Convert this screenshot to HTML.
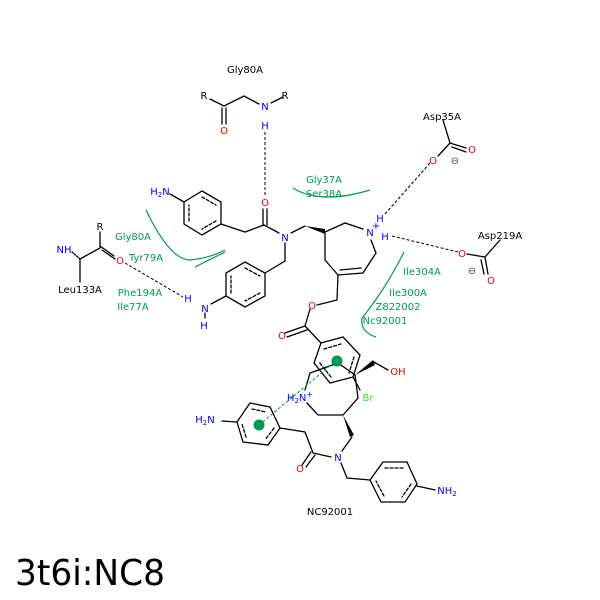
<!DOCTYPE html>
<html><head><meta charset="utf-8"><style>
html,body{margin:0;padding:0;background:#fff;width:600px;height:600px;overflow:hidden}
svg{display:block}
text{font-family:"DejaVu Sans","Liberation Sans",sans-serif;font-size:10px}
</style></head><body>
<svg width="600" height="600" viewBox="0 0 600 600">
<rect width="600" height="600" fill="#fff"/>
<g stroke="#000" stroke-width="1.3" fill="none" stroke-linecap="round">
<!-- top Gly80A residue -->
<path d="M210,99 L224,106 L244,96 L259,104 M271,103 L283,97"/>
<path d="M222,108 L222,124 M226,108 L226,124"/>
<!-- ring1 -->
<path d="M202,191 L221,202 L221,224 L202,235 L184,224 L184,202 Z"/>
<path d="M202,197 L216,205 M216,221 L202,229 M189,221 L189,205" stroke-dasharray="3,2"/>
<path d="M184,202 L170,194"/>
<path d="M221,224 L245,232 L264,225 L279,233"/>
<path d="M263,225 L263,209 M267,225 L267,209"/>
<path d="M291,233 L305,226"/>
<polygon points="305,226 325,229 325,234" fill="#000" stroke="none"/>
<path d="M285,243 L285,261 L265,273"/>
<!-- ring2 -->
<path d="M245,262 L265,273 L265,296 L245,307 L226,296 L226,273 Z"/>
<path d="M245,268 L260,276 M260,293 L245,301 M231,293 L231,276" stroke-dasharray="3,2"/>
<path d="M226,296 L211,304"/>
<path d="M205,313 L205,318"/>
<!-- azepane -->
<path d="M325,232 L345,223 L363,229 M371,240 L376,253 L363,273 L338,275 L325,260 L325,232"/>
<path d="M340,270 L361,268"/>
<path d="M338,275 L337,300 L317,305"/>
<path d="M310,309 L305,326 L285,333 M307,330 L287,337"/>
<path d="M305,326 L321,343"/>
<!-- benzene ring3 -->
<path d="M321,343 L343,337 L360,355 L353,377 L330,383 L314,363 Z"/>
<path d="M324,349 L341,344 M354,357 L349,373 M331,377 L319,362" stroke-dasharray="3,2"/>
<path d="M353,377 L360,390"/>
<!-- piperidine -->
<path d="M305,390 L310,373 L338,363 L355,375 L358,398 L343,415 L318,415 L307,403"/>
<polygon points="355,375 373,360 375,365" fill="#000" stroke="none"/>
<path d="M374,362 L388,370"/>
<polygon points="343,415 350,437 354,435" fill="#000" stroke="none"/>
<path d="M352,437 L342,451"/>
<!-- ring4 -->
<path d="M250,403 L270,407 L280,428 L268,445 L243,442 L237,422 Z"/>
<path d="M252,409 L266,412 M274,428 L265,440 M246,437 L242,424" stroke-dasharray="3,2"/>
<path d="M222,421 L237,422"/>
<path d="M280,428 L305,432 L313,453 L331,457"/>
<path d="M311,452 L302,465 M315,455 L306,467"/>
<path d="M341,463 L347,478 L370,480"/>
<!-- ring5 -->
<path d="M370,480 L383,462 L407,462 L417,484 L405,502 L381,502 Z"/>
<path d="M385,468 L404,468 M411,484 L402,497 M384,496 L376,481" stroke-dasharray="3,2"/>
<path d="M417,486 L435,490"/>
<!-- Leu133A -->
<path d="M80,259 L80,282 M80,259 L100,248 L100,232"/>
<path d="M100,246 L114,256 M102,250 L115,259"/>
<path d="M72,252 L80,259" stroke-dasharray="1.5,1.5"/>
<!-- Asp35A -->
<path d="M443,120 L450,143 L466,148 M450,143 L438,156 M452,147 L466,152"/>
<!-- Asp219A -->
<path d="M500,240 L485,257 L467,254 M485,257 L488,274 M481,260 L484,274"/>
</g>
<!-- H-bond dashes -->
<g stroke="#000" stroke-width="1" stroke-dasharray="3,2" fill="none">
<path d="M265,132 L265,196"/>
<path d="M125,263 L183,297"/>
<path d="M385,214 L430,163"/>
<path d="M392,236 L458,252"/>
</g>
<!-- pi interaction -->
<path d="M259,425 L337,360" stroke="#009955" stroke-width="1" stroke-dasharray="3,2"/>
<circle cx="337" cy="361" r="5.5" fill="#009955"/>
<circle cx="259" cy="425" r="5.5" fill="#009955"/>
<!-- green residue curves -->
<g stroke="#009955" stroke-width="1.2" fill="none">
<path d="M293,188 Q320,205 370,190"/>
<path d="M146,210 Q170,260 190,260 Q210,258 225,250 M195,267 L225,252"/>
<path d="M404,252 Q385,290 362,318 Q360,332 376,337"/>
</g>
<!-- labels -->
<g text-anchor="middle">
<text x="245" y="73">Gly80A</text>
<text x="204" y="99">R</text>
<text x="224" y="134" fill="#e00">O</text>
<text x="265" y="110" fill="#00f">N</text>
<text x="285" y="99">R</text>
<text x="265" y="129" fill="#00f">H</text>
<text x="265" y="206" fill="#e00">O</text>
<text x="285" y="241" fill="#00f">N</text>
<text x="370" y="236" fill="#00f">N</text>
<text x="376" y="229" fill="#00f" font-size="8">+</text>
<text x="380" y="222" fill="#00f">H</text>
<text x="385" y="240" fill="#00f">H</text>
<text x="312" y="309" fill="#e00">O</text>
<text x="282" y="339" fill="#e00">O</text>
<text x="398" y="375" fill="#e00">OH</text>
<text x="368" y="401" fill="#33dd33">Br</text>
<text x="300" y="401" fill="#00f">H<tspan font-size="7" dy="2">2</tspan><tspan dy="-2">N</tspan><tspan font-size="8" dy="-4">+</tspan></text>
<text x="205" y="423" fill="#00f">H<tspan font-size="7" dy="2">2</tspan><tspan dy="-2">N</tspan></text>
<text x="300" y="472" fill="#e00">O</text>
<text x="338" y="461" fill="#00f">N</text>
<text x="447" y="494" fill="#00f">NH<tspan font-size="7" dy="2">2</tspan></text>
<text x="330" y="515">NC92001</text>
<text x="160" y="195" fill="#00f">H<tspan font-size="7" dy="2">2</tspan><tspan dy="-2">N</tspan></text>
<text x="188" y="302" fill="#00f">H</text>
<text x="205" y="312" fill="#00f">N</text>
<text x="204" y="329" fill="#00f">H</text>
<text x="64" y="253" fill="#00f">NH</text>
<text x="100" y="230">R</text>
<text x="120" y="264" fill="#e00">O</text>
<text x="80" y="293">Leu133A</text>
<text x="442" y="120">Asp35A</text>
<text x="472" y="153" fill="#e00">O</text>
<text x="433" y="164" fill="#e00">O</text>
<text x="455" y="164" fill="#444">⊖</text>
<text x="500" y="239">Asp219A</text>
<text x="462" y="257" fill="#e00">O</text>
<text x="491" y="284" fill="#e00">O</text>
<text x="472" y="274" fill="#444">⊖</text>
<g fill="#009955">
<text x="324" y="183">Gly37A</text>
<text x="324" y="197">Ser38A</text>
<text x="133" y="240">Gly80A</text>
<text x="146" y="261">Tyr79A</text>
<text x="140" y="296">Phe194A</text>
<text x="133" y="310">Ile77A</text>
<text x="422" y="275">Ile304A</text>
<text x="408" y="296">Ile300A</text>
<text x="398" y="310">Z822002</text>
<text x="385" y="324">Nc92001</text>
</g>
</g>
<text x="15" y="585" font-size="36" textLength="150" lengthAdjust="spacingAndGlyphs" style="font-size:36px">3t6i:NC8</text>
</svg>
</body></html>
